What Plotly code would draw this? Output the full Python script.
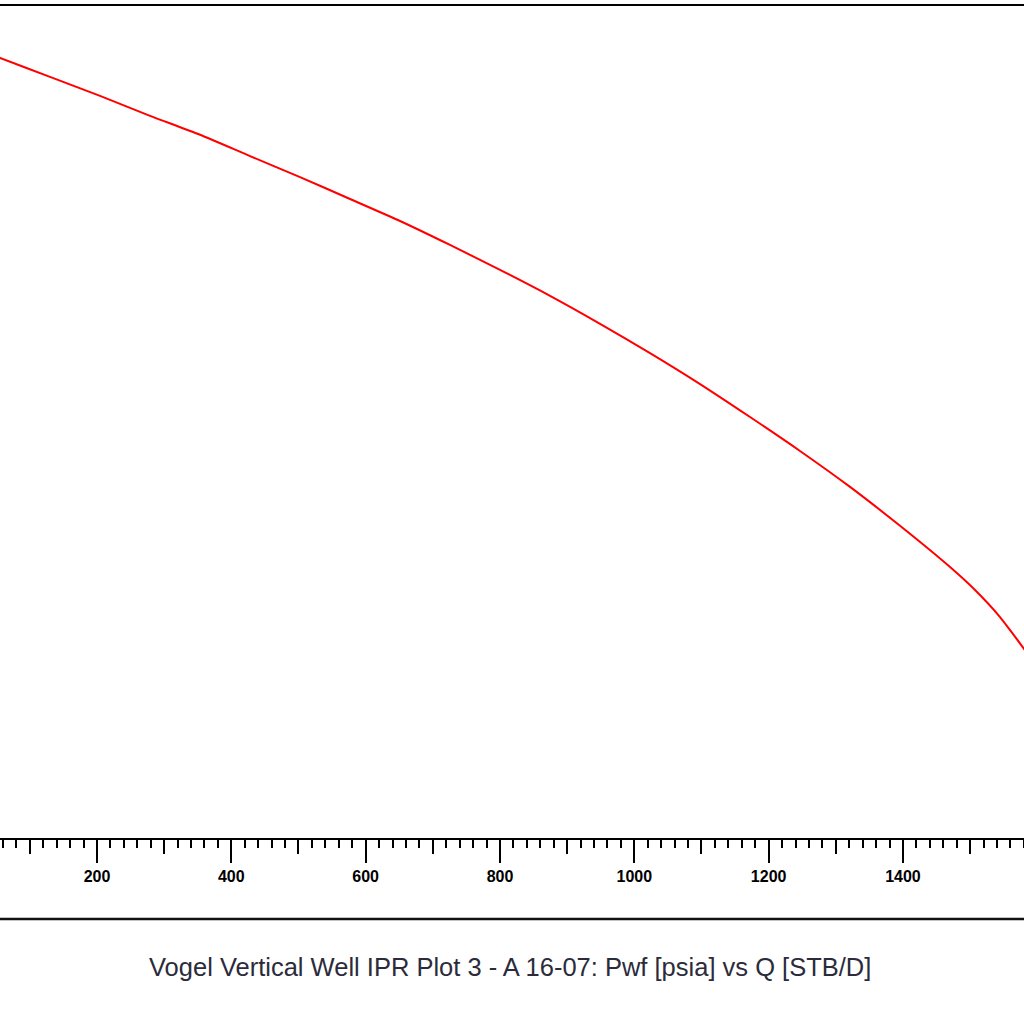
import plotly.graph_objects as go

# Flow rate Q [STB/D] and flowing bottom-hole pressure Pwf [psia]
q_stbd = [0, 55.6, 130.0, 204.5, 279.0, 353.4, 427.9, 502.3, 576.8, 651.2, 725.6,
          800.1, 874.5, 949.0, 1023.4, 1097.9, 1172.3, 1246.7, 1321.2, 1395.6,
          1470.1, 1507.3, 1544.5, 1562.3, 1580.2, 1600]
pwf_psia = [2390, 2344, 2287, 2230, 2170, 2113, 2049, 1986, 1920, 1854, 1782,
            1707, 1629, 1545, 1457, 1364, 1265, 1163, 1055, 938,
            814, 745, 664, 617, 568, 510]

x_range = [55.6, 1580.2]
y_range = [0, 2500]
major_ticks = [200, 400, 600, 800, 1000, 1200, 1400, 1600]
tick_text = ["200", "400", "600", "800", "1000", "1200", "1400", "1600"]

title_text = "Vogel Vertical Well IPR Plot 3 - A 16-07: Pwf [psia] vs Q [STB/D]"

fig = go.Figure()
fig.add_trace(go.Scatter(
    x=q_stbd, y=pwf_psia, mode="lines",
    line=dict(color="#ff0000", width=2, shape="spline", smoothing=0.6),
    showlegend=False, hoverinfo="skip"))

# invisible trace on the overlay axis used for the mid-length ticks
fig.add_trace(go.Scatter(x=x_range, y=y_range, xaxis="x2", mode="lines",
                         line=dict(width=0), showlegend=False, hoverinfo="skip"))

y0 = (1024 - 838) / 1024
y1 = (1024 - 6) / 1024

fig.update_layout(
    width=1024, height=1024,
    margin=dict(l=0, r=0, t=0, b=0),
    paper_bgcolor="white", plot_bgcolor="white",
    xaxis=dict(
        range=x_range, domain=[0, 1],
        tickvals=major_ticks, ticktext=tick_text,
        ticks="outside", ticklen=23, tickwidth=2, tickcolor="black",
        showline=True, linewidth=2, linecolor="black", mirror=True,
        showgrid=False, zeroline=False,
        tickfont=dict(family="Liberation Sans, Arial", size=16,
                      color="black", weight="bold"),
        minor=dict(dtick=20, tick0=0, ticks="outside", ticklen=8, tickwidth=2,
                   tickcolor="black", showgrid=False),
    ),
    xaxis2=dict(
        range=x_range, overlaying="x", anchor="y", side="bottom",
        tick0=100, dtick=200, ticks="outside", ticklen=15, tickwidth=2,
        tickcolor="black", showticklabels=False, showgrid=False,
        zeroline=False, showline=False,
    ),
    yaxis=dict(range=y_range, domain=[y0, y1], visible=False,
               showgrid=False, zeroline=False),
    shapes=[dict(type="line", xref="paper", yref="paper",
                 x0=0, x1=1, y0=(1024 - 919) / 1024, y1=(1024 - 919) / 1024,
                 line=dict(color="#111111", width=2.5))],
    annotations=[dict(text=title_text, xref="paper", yref="paper",
                      x=0.498, y=(1024 - 967) / 1024, xanchor="center", yanchor="middle",
                      showarrow=False,
                      font=dict(family="Liberation Sans, Arial",
                                size=25.5, color="#2b2b3b"))],
)

fig.write_html("out.html",
               config={"displayModeBar": False},
               post_script="document.body.style.margin='0';document.body.style.overflow='hidden';")
